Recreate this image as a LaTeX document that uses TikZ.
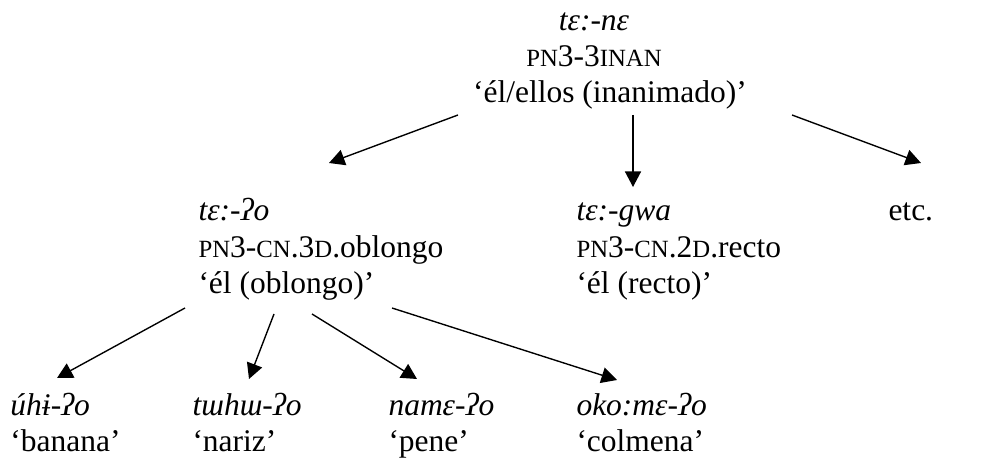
\documentclass[tikz,border=0pt]{standalone}
\usepackage{fontspec}
\setmainfont{Liberation Serif}
\usetikzlibrary{arrows.meta}
\newcommand{\smcap}[1]{{\fontsize{9.9}{11}\selectfont\MakeUppercase{#1}}}

\begin{document}
\begin{tikzpicture}[x=0.4pt,y=0.4pt,
    every node/.style={inner sep=0pt,font=\fontsize{12.6}{14.6}\selectfont},
    lbl/.style={anchor=base west,align=left},
    arr/.style={-{Triangle[length=6.2pt,width=6.4pt]},line width=0.55pt}]
    \useasboundingbox (0,0) rectangle (1000,459);
    % top
    \node[anchor=base,align=center] (tene) at (594,392)
        {\textit{tɛ:-nɛ}\\ \smcap{pn}3-3\smcap{inan}};
    \node[anchor=base] (tene-tr) at (610,356) {‘él/ellos (inanimado)’};
    % middle row
    \node[lbl] (teqo) at (198,165)
        {\textit{tɛ:-ʔo}\\ \smcap{pn}3-\smcap{cn}.3\smcap{d}.oblongo\\ ‘él (oblongo)’};
    \node[lbl] (tegwa) at (576,165)
        {\textit{tɛ:-gwa}\\ \smcap{pn}3-\smcap{cn}.2\smcap{d}.recto\\ ‘él (recto)’};
    \node[lbl] (etc) at (888,238) {etc.};
    % bottom row
    \node[lbl] (uhi) at (10,7) {\textit{úhɨ-ʔo}\\ ‘banana’};
    \node[lbl] (tuhu) at (192,7) {\textit{tɯhɯ-ʔo}\\ ‘nariz’};
    \node[lbl] (name) at (388,7) {\textit{namɛ-ʔo}\\ ‘pene’};
    \node[lbl] (okome) at (576,7) {\textit{oko:mɛ-ʔo}\\ ‘colmena’};
    % arrow ends
    \coordinate (tene-l) at (458,344);
    \coordinate (tene-m) at (633,344);
    \coordinate (tene-r) at (792,344);
    \coordinate (teqo-in) at (329,296);
    \coordinate (tegwa-in) at (633,272);
    \coordinate (etc-in) at (921,296);
    \coordinate (teqo-a) at (185,151);
    \coordinate (teqo-b) at (274,145);
    \coordinate (teqo-c) at (312,145);
    \coordinate (teqo-d) at (392,151);
    \coordinate (uhi-in) at (57,81);
    \coordinate (tuhu-in) at (249,80);
    \coordinate (name-in) at (417,80);
    \coordinate (okome-in) at (617,79);
    \draw[arr] (tene-l) -- (teqo-in);
    \draw[arr] (tene-m) -- (tegwa-in);
    \draw[arr] (tene-r) -- (etc-in);
    \draw[arr] (teqo-a) -- (uhi-in);
    \draw[arr] (teqo-b) -- (tuhu-in);
    \draw[arr] (teqo-c) -- (name-in);
    \draw[arr] (teqo-d) -- (okome-in);
\end{tikzpicture}
\end{document}
